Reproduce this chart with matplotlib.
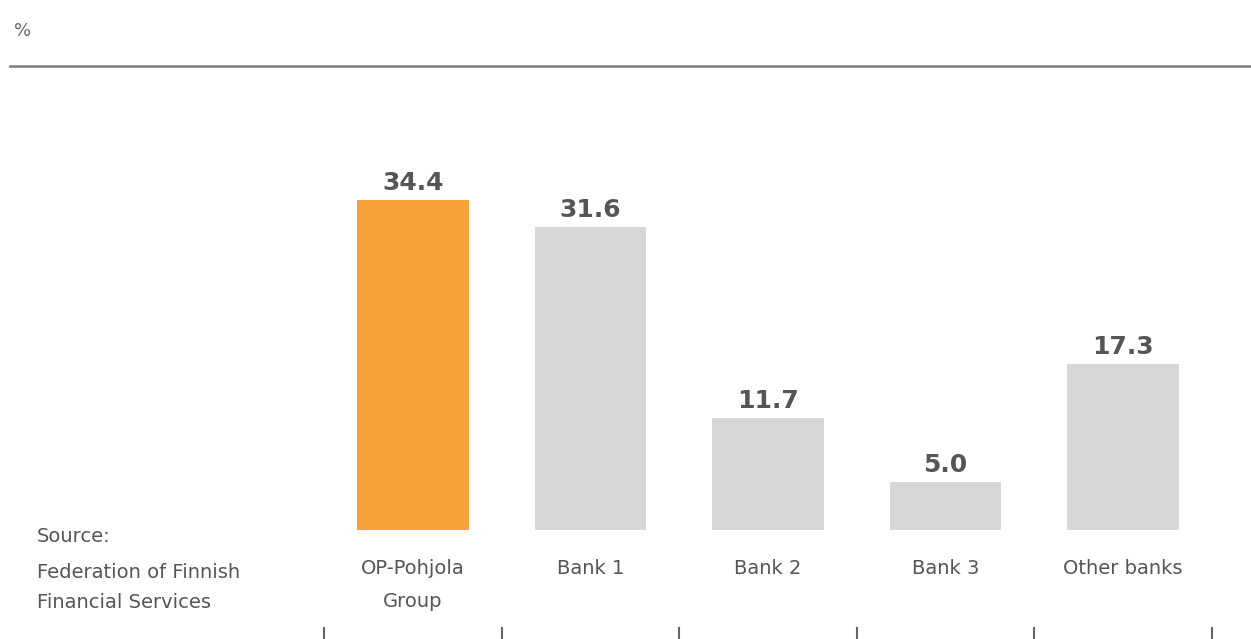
import matplotlib.pyplot as plt
import matplotlib.transforms as mtransforms

# chart data
categories = ['OP-Pohjola\nGroup', 'Bank 1', 'Bank 2', 'Bank 3', 'Other banks']
shares = [34.4, 31.6, 11.7, 5.0, 17.3]
value_labels = ['34.4', '31.6', '11.7', '5.0', '17.3']
bar_colors = ['#f9a23a', '#d7d7d7', '#d7d7d7', '#d7d7d7', '#d7d7d7']
source_lines = ['Source:', 'Federation of Finnish', 'Financial Services']

W, H = 1251, 639
text_col = '#555555'

fig = plt.figure(figsize=(W / 100, H / 100), dpi=100)

# axes spans the category boundaries (x 324..1212 px) and bottom at 530 px
left, right = 324.25, 1211.75
bottom_px, top_px = 530, 146.4
ax = fig.add_axes([left / W, 1 - bottom_px / H, (right - left) / W, (bottom_px - top_px) / H])
ax.set_xlim(-0.5, len(categories) - 0.5)
ax.set_ylim(0, 40)
ax.axis('off')

x = range(len(categories))
ax.bar(x, shares, width=0.63, color=bar_colors)

for xi, val, lab in zip(x, shares, value_labels):
    ax.text(xi, val + 0.55, lab, ha='center', va='bottom', fontsize=18,
            fontweight='bold', color=text_col)

# category labels below bars
trans = mtransforms.blended_transform_factory(ax.transData, fig.transFigure)
for xi, cat in zip(x, categories):
    ax.text(xi, 1 - 559 / H, cat, ha='center', va='top', fontsize=14,
            color=text_col, transform=trans, linespacing=1.95)

# small separator ticks at the very bottom
for b in range(len(categories) + 1):
    ax.plot([b - 0.5, b - 0.5], [1 - 628 / H, 0], color='#666666', lw=1.5,
            transform=trans, clip_on=False)

# source note
for i, line in enumerate(source_lines):
    fig.text(37 / W, 1 - [537, 572, 603][i] / H, line, ha='left', va='center',
             fontsize=14, color=text_col)

# unit label and top rule
fig.text(14 / W, 1 - 31 / H, '%', ha='left', va='center', fontsize=13, color='#666666')
fig.add_artist(plt.Line2D([10 / W, 1], [1 - 66 / H, 1 - 66 / H], color='#7a7a7a', lw=1.8))

fig.savefig('out.png', dpi=100, facecolor='white')
